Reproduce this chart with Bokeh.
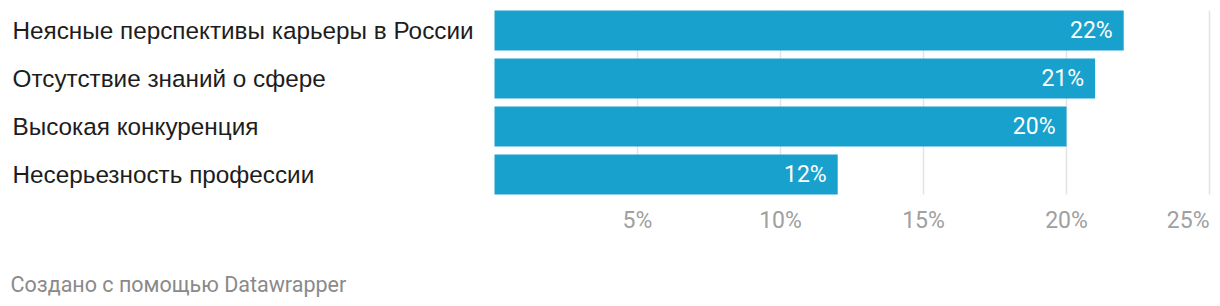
from bokeh.plotting import figure
from bokeh.models import Range1d, ColumnDataSource
from bokeh.core.properties import value
from bokeh.embed import file_html
from bokeh.resources import INLINE

categories = ["Неясные перспективы карьеры в России",
              "Отсутствие знаний о сфере",
              "Высокая конкуренция",
              "Несерьезность профессии"]
values = [22, 21, 20, 12]
value_labels = ["22%", "21%", "20%", "12%"]
tick_values = [5, 10, 15, 20, 25]
tick_labels = ["5%", "10%", "15%", "20%", "25%"]
footer = "Создано с помощью Datawrapper"

W, H = 1220, 306
px_per_unit = 715 / 25.0
x0_px = 494
xs = -x0_px / px_per_unit
xe = xs + W / px_per_unit

step = 48.0
top_px = 30.0
ys = -top_px / step
ye = (H - top_px) / step
bar_h = 40 / step

p = figure(width=W, height=H, output_backend="svg", toolbar_location=None,
           x_range=Range1d(xs, xe), y_range=Range1d(ye, ys),
           min_border=0, min_border_left=0, min_border_right=0,
           min_border_top=0, min_border_bottom=0)
p.axis.visible = False
p.grid.visible = False
p.outline_line_color = None
p.background_fill_color = "white"
p.border_fill_color = "white"

n = len(categories)
idx = list(range(n))
g_y0 = -bar_h / 2
g_y1 = n - 1 + bar_h / 2

# gridlines
p.segment(x0=tick_values, x1=tick_values, y0=[g_y0] * len(tick_values),
          y1=[g_y1] * len(tick_values), line_color="#e3e3e3", line_width=1.5)

src = ColumnDataSource(dict(y=idx, v=values, cat=categories, vl=value_labels,
                            zero=[0] * n))
p.hbar(y="y", left=0, right="v", height=bar_h, source=src,
       fill_color="#18a1cd", line_color=None)

# category labels
p.text(x="zero", y="y", text="cat", source=src, x_offset=-482,
       text_align="left", text_baseline="middle",
       text_font=value("Liberation Sans"), text_font_size="24.3px",
       text_color="#1d1d1d")

# value labels
p.text(x="v", y="y", text="vl", source=src, x_offset=-11,
       text_align="right", text_baseline="middle",
       text_font=value("Roboto"), text_font_size="23px", text_color="white")

# tick labels
aligns = ["center"] * (len(tick_values) - 1) + ["right"]
tsrc = ColumnDataSource(dict(x=tick_values, t=tick_labels, a=aligns,
                             y=[g_y1] * len(tick_values)))
p.text(x="x", y="y", text="t", source=tsrc, y_offset=26, text_align="a",
       text_baseline="middle", text_font=value("Roboto"),
       text_font_size="23px", text_color="#a0a0a0")

# footer
p.text(x=[0], y=[g_y1], text=[footer], x_offset=-484, y_offset=90,
       text_align="left", text_baseline="middle", text_font=value("Roboto"),
       text_font_size="21.5px", text_color="#8a8a8a")

open("out.html", "w").write(file_html(p, INLINE))
